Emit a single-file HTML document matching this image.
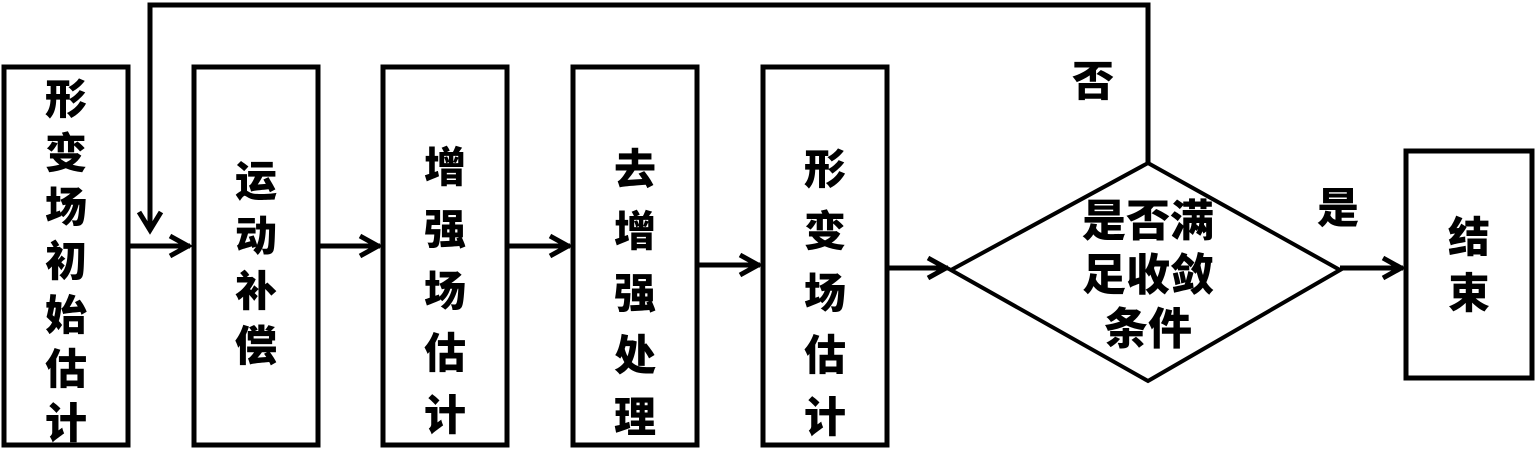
<!DOCTYPE html>
<html><head><meta charset="utf-8"><style>
body{margin:0;width:1535px;height:449px;background:#fff;overflow:hidden;position:relative;font-family:"Liberation Sans","Noto Sans CJK SC",sans-serif;}
.t{position:absolute;font-weight:900;font-size:42px;color:#000;text-align:center;width:60px;}
svg{position:absolute;left:0;top:0}
</style></head><body>
<svg width="1535" height="449" viewBox="0 0 1535 449">
<g fill="none" stroke="#000" stroke-width="5">
<rect x="4" y="67" width="124" height="378"/>
<rect x="194" y="67" width="124" height="378"/>
<rect x="383" y="67" width="124" height="378"/>
<rect x="573" y="67" width="124" height="378"/>
<rect x="763" y="67" width="124" height="378"/>
<rect x="1406" y="151" width="126" height="227"/>
<polygon points="951,270 1148,163 1340,270 1148,381" stroke-width="4"/>
<polyline points="1148,163 1148,5 150,5 150,230"/>
<polyline points="139,212 150,230 161,212"/>
<line x1="128" y1="246" x2="190" y2="246"/><polyline points="170,236 188,246 170,256"/>
<line x1="318" y1="246" x2="380" y2="246"/><polyline points="360,236 378,246 360,256"/>
<line x1="507" y1="246" x2="570" y2="246"/><polyline points="550,236 568,246 550,256"/>
<line x1="697" y1="265" x2="760" y2="265"/><polyline points="740,255 758,265 740,275"/>
<line x1="887" y1="268" x2="948" y2="268"/><polyline points="928,258 946,268 928,278"/>
<line x1="1340" y1="268" x2="1403" y2="268"/><polyline points="1383,258 1401,268 1383,278"/>
</g>
</svg>
<div class="t" style="left:36px;top:73px;line-height:54px">形<br>变<br>场<br>初<br>始<br>估<br>计</div>
<div class="t" style="left:226px;top:154px;line-height:55px">运<br>动<br>补<br>偿</div>
<div class="t" style="left:415px;top:137px;line-height:62px">增<br>强<br>场<br>估<br>计</div>
<div class="t" style="left:605px;top:139px;line-height:62px">去<br>增<br>强<br>处<br>理</div>
<div class="t" style="left:795px;top:139px;line-height:62px">形<br>变<br>场<br>估<br>计</div>
<div class="t" style="left:1068px;top:195px;width:160px;line-height:54px;font-size:44px">是否满<br>足收敛<br>条件</div>
<div class="t" style="left:1439px;top:210px;line-height:56px">结<br>束</div>
<div class="t" style="left:1063px;top:48px">否</div>
<div class="t" style="left:1308px;top:175px">是</div>
</body></html>
